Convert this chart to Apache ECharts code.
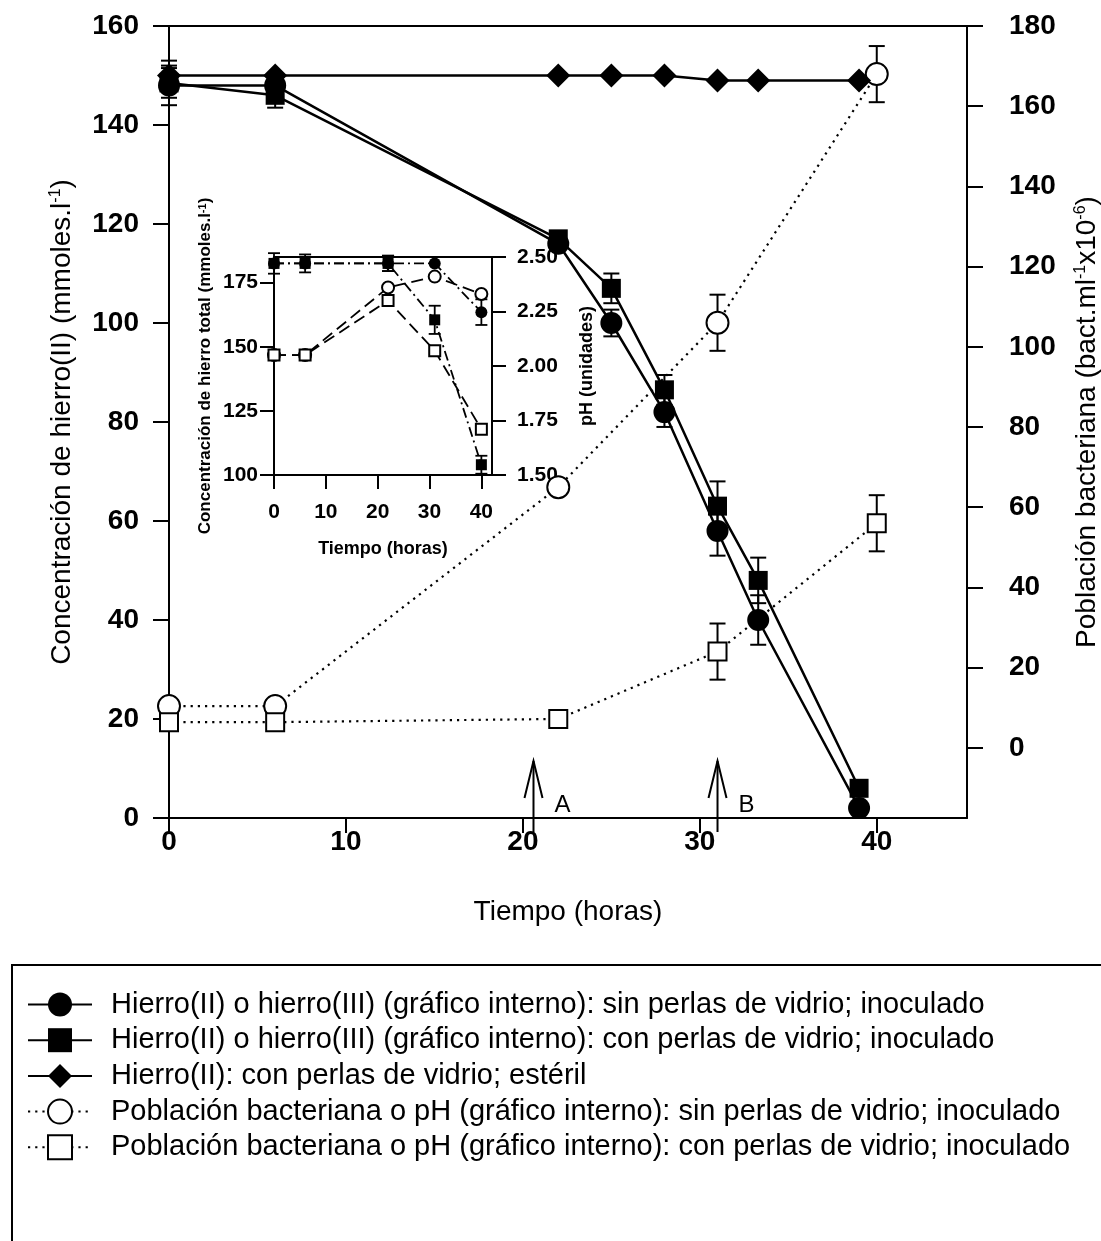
<!DOCTYPE html>
<html><head><meta charset="utf-8">
<script src="https://cdn.jsdelivr.net/npm/echarts@6/dist/echarts.min.js"></script>
<style>html,body{margin:0;padding:0;background:#fff}#c{width:1101px;height:1241px}</style>
</head><body><div id="c"></div>
<script>
// ---------------- data ----------------
const hoursMain = [0, 6, 22, 25, 28, 31, 33.3, 39];
const feSinPerlas = [148, 148, 116, 100, 82, 58, 40, 2];
const feSinPerlasErr = [4, 2, 1, 2.7, 3, 5, 5, 1];
const feConPerlas = [148.5, 146, 117, 107, 86.5, 63, 48, 6];
const feConPerlasErr = [3, 2.5, 1, 3, 3, 5, 4.6, 1];
const feEsteril = [150, 150, 150, 150, 150, 149, 149, 149];
const feEsterilErr = [3, 0, 0, 0, 0, 0, 0, 0];
const hoursBact = [0, 6, 22, 31, 40];
const bactSinPerlas = [10.4, 10.4, 65, 106, 168];
const bactSinPerlasErr = [0, 0, 0, 7, 7];
const bactConPerlas = [6.4, 6.4, 7.2, 24, 56];
const bactConPerlasErr = [0, 0, 0, 7, 7];
// inset
const hoursInset = [0, 6, 22, 31, 40];
const feTotalSin = [182.5, 182.5, 182.5, 182.5, 163.5];
const feTotalSinErr = [4, 3.5, 3, 0, 5];
const feTotalCon = [182.5, 182.5, 182.5, 160.5, 104];
const feTotalConErr = [0, 0, 3, 5.5, 3.5];
const phSin = [2.05, 2.05, 2.36, 2.41, 2.33];
const phCon = [2.05, 2.05, 2.30, 2.07, 1.71];
// annotations
const arrowHours = [20.6, 31.0];
const arrowLabels = ['A', 'B'];
// ticks
const xTicksMain = [0, 10, 20, 30, 40];
const bactTicks = [0, 20, 40, 60, 80, 100, 120, 140, 160, 180];
const xTicksInset = [0, 10, 20, 30, 40];
const feTotalTicks = [100, 125, 150, 175];

const N1 = 'Hierro(II) o hierro(III) (gráfico interno): sin perlas de vidrio; inoculado';
const N2 = 'Hierro(II) o hierro(III) (gráfico interno): con perlas de vidrio; inoculado';
const N3 = 'Hierro(II): con perlas de vidrio; estéril';
const N4 = 'Población bacteriana o pH (gráfico interno): sin perlas de vidrio; inoculado';
const N5 = 'Población bacteriana o pH (gráfico interno): con perlas de vidrio; inoculado';

// ---------------- helpers ----------------
const FF = 'Liberation Sans, Arial, sans-serif';
const BLK = '#000';

function pts(xs, ys) { return xs.map((x, i) => [x, ys[i]]); }

function lineSeries(name, xs, ys, xi, yi, symbol, size, filled, lineType, lw, z) {
  return {
    name, type: 'line', xAxisIndex: xi, yAxisIndex: yi, data: pts(xs, ys),
    symbol, symbolSize: size, clip: false, z: z || 3, animation: false,
    lineStyle: { color: BLK, width: lw, type: lineType },
    itemStyle: filled ? { color: BLK, borderColor: BLK, borderWidth: 0 }
                      : { color: '#fff', borderColor: BLK, borderWidth: 2 },
    emphasis: { disabled: true }
  };
}

function errSeries(xs, ys, es, xi, yi, capHalf, lw) {
  const data = [];
  xs.forEach((x, i) => { if (es[i] > 0) data.push([x, ys[i] - es[i], ys[i] + es[i]]); });
  return {
    type: 'custom', xAxisIndex: xi, yAxisIndex: yi, z: 2, silent: true, animation: false,
    data,
    renderItem(params, api) {
      const lo = api.coord([api.value(0), api.value(1)]);
      const hi = api.coord([api.value(0), api.value(2)]);
      const st = { stroke: BLK, lineWidth: lw };
      return { type: 'group', children: [
        { type: 'line', shape: { x1: lo[0], y1: lo[1], x2: hi[0], y2: hi[1] }, style: st },
        { type: 'line', shape: { x1: lo[0] - capHalf, y1: lo[1], x2: lo[0] + capHalf, y2: lo[1] }, style: st },
        { type: 'line', shape: { x1: hi[0] - capHalf, y1: hi[1], x2: hi[0] + capHalf, y2: hi[1] }, style: st }
      ] };
    }
  };
}

const axLine = { show: true, onZero: false, lineStyle: { color: BLK, width: 2 } };
const tick = (len, custom) => {
  const t = { show: true, inside: false, length: len, lineStyle: { color: BLK, width: 2 } };
  if (custom) t.customValues = custom;
  return t;
};
const lbl = (size, margin, custom, extra) => {
  const l = Object.assign({ show: true, fontSize: size, fontWeight: 'bold', fontFamily: FF, color: BLK, margin }, extra || {});
  if (custom) l.customValues = custom;
  return l;
};

const chart = echarts.init(document.getElementById('c'), null, { renderer: 'canvas' });

const option = {
  backgroundColor: '#fff',
  animation: false,
  grid: [
    { left: 169, top: 26, width: 798, height: 792, containLabel: false, outerBoundsMode: 'none' },
    { left: 274, top: 257, width: 218, height: 218, containLabel: false, outerBoundsMode: 'none' }
  ],
  xAxis: [
    { gridIndex: 0, type: 'value', position: 'bottom', min: 0, max: 45.1,
      axisLine: axLine, axisTick: tick(15, xTicksMain), axisLabel: lbl(28, 10, xTicksMain),
      splitLine: { show: false },
      name: 'Tiempo (horas)', nameLocation: 'middle', nameGap: 80,
      nameTextStyle: { fontSize: 28, fontFamily: FF, color: BLK } },
    { gridIndex: 0, type: 'value', position: 'top', min: 0, max: 45.1,
      axisLine: axLine, axisTick: { show: false }, axisLabel: { show: false }, splitLine: { show: false } },
    { gridIndex: 1, type: 'value', position: 'bottom', min: 0, max: 42.05,
      axisLine: axLine, axisTick: tick(14, xTicksInset), axisLabel: lbl(21, 27, xTicksInset),
      splitLine: { show: false },
      name: 'Tiempo (horas)', nameLocation: 'middle', nameGap: 65,
      nameTextStyle: { fontSize: 18, fontWeight: 'bold', fontFamily: FF, color: BLK } },
    { gridIndex: 1, type: 'value', position: 'top', min: 0, max: 42.05,
      axisLine: axLine, axisTick: { show: false }, axisLabel: { show: false }, splitLine: { show: false } }
  ],
  yAxis: [
    { gridIndex: 0, type: 'value', position: 'left', min: 0, max: 160, interval: 20,
      axisLine: axLine, axisTick: tick(16), axisLabel: lbl(28, 30),
      splitLine: { show: false },
      name: '{t|Concentración de hierro(II) (mmoles.l}{s|-1}{t|)}', nameLocation: 'middle', nameGap: 93,
      nameTextStyle: { rich: {
        t: { fontSize: 28, fontFamily: FF, color: BLK },
        s: { fontSize: 16, fontFamily: FF, color: BLK, verticalAlign: 'top' } } } },
    { gridIndex: 0, type: 'value', position: 'right', min: -17.5, max: 180,
      axisLine: axLine, axisTick: tick(16, bactTicks), axisLabel: lbl(28, 42, bactTicks),
      splitLine: { show: false },
      name: '{t|Población bacteriana (bact.ml}{s|-1}{t|x10}{s|-6}{t|)}', nameLocation: 'middle',
      nameGap: 106, nameRotate: 90,
      nameTextStyle: { rich: {
        t: { fontSize: 28, fontFamily: FF, color: BLK },
        s: { fontSize: 16, fontFamily: FF, color: BLK, verticalAlign: 'top' } } } },
    { gridIndex: 1, type: 'value', position: 'left', min: 100, max: 185,
      axisLine: axLine, axisTick: tick(14, feTotalTicks), axisLabel: lbl(21, 16, feTotalTicks),
      splitLine: { show: false },
      name: '{t|Concentración de hierro total (mmoles.l}{s|-1}{t|)}', nameLocation: 'middle', nameGap: 60,
      nameTextStyle: { rich: {
        t: { fontSize: 17, fontWeight: 'bold', fontFamily: FF, color: BLK },
        s: { fontSize: 11, fontWeight: 'bold', fontFamily: FF, color: BLK, verticalAlign: 'top' } } } },
    { gridIndex: 1, type: 'value', position: 'right', min: 1.5, max: 2.5, interval: 0.25,
      axisLine: axLine, axisTick: tick(14),
      axisLabel: lbl(21, 25, null, { formatter: v => v.toFixed(2) }),
      splitLine: { show: false },
      name: 'pH (unidades)', nameLocation: 'middle', nameGap: 86, nameRotate: 90,
      nameTextStyle: { fontSize: 18, fontWeight: 'bold', fontFamily: FF, color: BLK } }
  ],
  legend: {
    show: true, orient: 'vertical', left: 22, top: 985,
    itemWidth: 64, itemHeight: 30, itemGap: 6.7,
    selectedMode: false,
    data: [N1, N2, N3, N4, N5],
    textStyle: { fontSize: 29, fontFamily: FF, color: BLK, padding: [0, 0, 0, 14] }
  },
  graphic: [
    { type: 'rect', z: -10, silent: true,
      shape: { x: 12, y: 965, width: 1200, height: 400 },
      style: { fill: 'none', stroke: BLK, lineWidth: 2 } }
  ],
  series: [
    // main plot
    lineSeries(N1, hoursMain, feSinPerlas, 0, 0, 'circle', 22, true, 'solid', 2.5, 4),
    lineSeries(N2, hoursMain, feConPerlas, 0, 0, 'rect', 19, true, 'solid', 2.5, 4),
    lineSeries(N3, hoursMain, feEsteril, 0, 0, 'diamond', 24, true, 'solid', 2.5, 5),
    lineSeries(N4, hoursBact, bactSinPerlas, 0, 1, 'circle', 22, false, [2.2, 5], 2.2, 3),
    lineSeries(N5, hoursBact, bactConPerlas, 0, 1, 'rect', 18, false, [2.2, 5], 2.2, 3),
    errSeries(hoursMain, feSinPerlas, feSinPerlasErr, 0, 0, 8, 2),
    errSeries(hoursMain, feConPerlas, feConPerlasErr, 0, 0, 8, 2),
    errSeries(hoursMain, feEsteril, feEsterilErr, 0, 0, 8, 2),
    errSeries(hoursBact, bactSinPerlas, bactSinPerlasErr, 0, 1, 8, 2),
    errSeries(hoursBact, bactConPerlas, bactConPerlasErr, 0, 1, 8, 2),
    // inset
    lineSeries(N2, hoursInset, feTotalCon, 2, 2, 'rect', 11, true, [10, 4, 2, 4], 1.8, 4),
    lineSeries(N1, hoursInset, feTotalSin, 2, 2, 'circle', 12, true, [10, 4, 2, 4], 1.8, 5),
    lineSeries(N4, hoursInset, phSin, 2, 3, 'circle', 12, false, [12, 6], 1.8, 3),
    lineSeries(N5, hoursInset, phCon, 2, 3, 'rect', 11, false, [12, 6], 1.8, 3),
    errSeries(hoursInset, feTotalSin, feTotalSinErr, 2, 2, 6, 1.8),
    errSeries(hoursInset, feTotalCon, feTotalConErr, 2, 2, 6, 1.8),
    // arrows A / B
    {
      type: 'custom', xAxisIndex: 0, yAxisIndex: 0, z: 6, silent: true, clip: false, animation: false,
      data: arrowHours.map((h, i) => [h, i]),
      renderItem(params, api) {
        const p = api.coord([api.value(0), 0]);
        const st = { stroke: BLK, lineWidth: 2, fill: 'none' };
        return { type: 'group', children: [
          { type: 'line', shape: { x1: p[0], y1: p[1] + 14, x2: p[0], y2: p[1] - 57 }, style: st },
          { type: 'polyline', shape: { points: [[p[0] - 9, p[1] - 20], [p[0], p[1] - 57], [p[0] + 9, p[1] - 20]] }, style: st },
          { type: 'text', x: p[0] + 29, y: p[1] - 13,
            style: { text: arrowLabels[params.dataIndex], fontSize: 24, fontFamily: FF, fill: BLK,
                     align: 'center', verticalAlign: 'middle' } }
        ] };
      }
    }
  ]
};
chart.setOption(option);
</script>
</body></html>
